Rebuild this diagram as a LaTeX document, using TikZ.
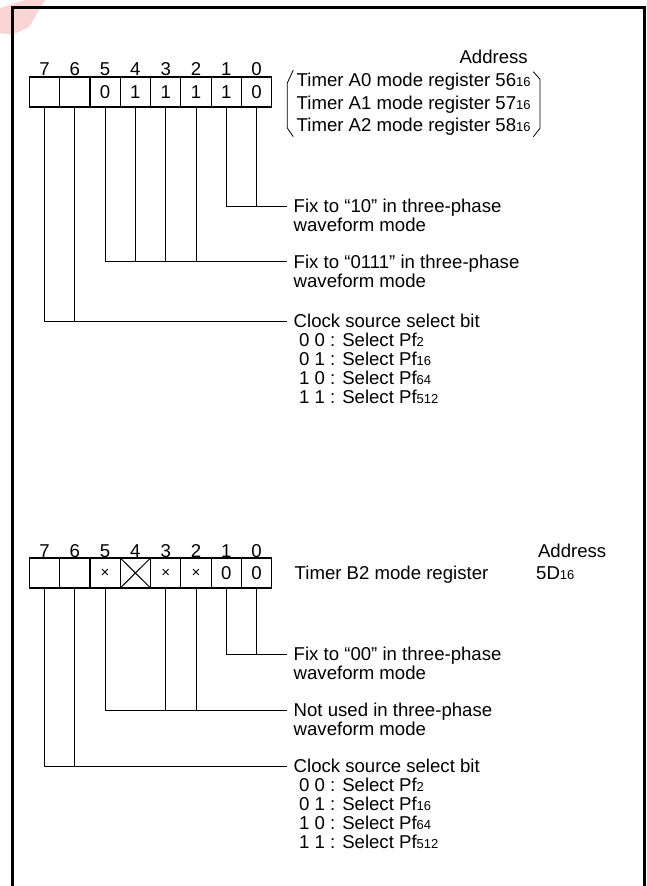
\documentclass[tikz,border=0pt]{standalone}
\usepackage{fontspec}
\setmainfont{Liberation Sans}
\usetikzlibrary{calc}
\newcommand\subx[1]{{\fontsize{13}{13}\selectfont #1}}
\newcommand\smallcross{{\fontsize{15}{15}\selectfont ×}}
\newcommand\firstline{\rule{0pt}{14pt}}
\definecolor{stamp}{RGB}{251,212,212}
\begin{document}
\begin{tikzpicture}[x=1pt,y=-1pt,
  every node/.style={font=\fontsize{18.6}{19}\selectfont, inner sep=0pt},
  cell/.style={draw, line width=1.2pt, minimum width=30.3pt, minimum height=30pt},
  lead/.style={line width=0.9pt},
  desc/.style={anchor=north west, align=left},
  bitnum/.style={anchor=base},
]
\useasboundingbox (0,0) rectangle (647,886);
% faint stamp in the corner
\fill[stamp] (25,0) -- (45,0) -- (29,27) -- (12,35) -- (0,33) -- (0,8) -- cycle;
% frame
\draw[line width=3pt] (12,886) -- (12,7) -- (644,7) -- (644,886);

% ---------- Register 1 ----------
\foreach \i/\t in {0/0,1/1,2/1,3/1,4/1,5/0,6/,7/} {
  \node[cell] (r1b\i) at ({256.6-30.3*\i},92) {\t};
  \node[bitnum] (r1n\i) at ({256.6-30.3*\i},75.6) {\i};
}
\node[anchor=base east] (addr1) at (528,63.6) {Address};
\node[anchor=north west, align=left, font=\fontsize{18.6}{22.5}\selectfont] (tA) at (296.5,72.6)
  {\firstline Timer A0 mode register 56\subx{16}\\Timer A1 mode register 57\subx{16}\\Timer A2 mode register 58\subx{16}};
\draw[line width=0.8pt] (293.3,70) -- (287.3,83) -- (287.3,128) -- (293.3,136.7);
\draw[line width=0.8pt] (533.3,71.7) -- (540,79.3) -- (540,128.3) -- (533.3,136.7);

\coordinate (j1) at (287,206);
\coordinate (j2) at (287,261.5);
\coordinate (j3) at (287,321);
\draw[lead] (r1b0.south) |- (j1);
\draw[lead] (r1b1.south) |- (j1);
\foreach \i in {2,3,4,5} \draw[lead] (r1b\i.south) |- (j2);
\foreach \i in {6,7} \draw[lead] (r1b\i.south) |- (j3);
\node[desc] (d1) at ([xshift=6.5pt,yshift=7.6pt]j1) {\firstline Fix to “10” in three-phase\\waveform mode};
\node[desc] (d2) at ([xshift=6.5pt,yshift=7.6pt]j2) {\firstline Fix to “0111” in three-phase\\waveform mode};
\node[desc] (d3) at ([xshift=6.5pt,yshift=7.6pt]j3) {\firstline Clock source select bit\\
  \hspace{5.5pt}0 0 : Select Pf\subx{2}\\
  \hspace{5.5pt}0 1 : Select Pf\subx{16}\\
  \hspace{5.5pt}1 0 : Select Pf\subx{64}\\
  \hspace{5.5pt}1 1 : Select Pf\subx{512}};

% ---------- Register 2 ----------
\foreach \i/\t in {0/0,1/0,2/\smallcross,3/\smallcross,4/,5/\smallcross,6/,7/} {
  \node[cell] (r2b\i) at ({256.6-30.3*\i},573) {\t};
  \node[bitnum] (r2n\i) at ({256.6-30.3*\i},557.6) {\i};
}
\draw[line width=1pt] (r2b4.north west) -- (r2b4.south east)
                      (r2b4.north east) -- (r2b4.south west);
\node[anchor=base east] (addr2) at (606.5,557.6) {Address};
\node[anchor=base west] (tB) at (294.5,579.6) {Timer B2 mode register};
\node[anchor=base west] (aB) at (536,579.6) {5D\subx{16}};

\coordinate (j4) at (287,654);
\coordinate (j5) at (287,710);
\coordinate (j6) at (287,766);
\draw[lead] (r2b0.south) |- (j4);
\draw[lead] (r2b1.south) |- (j4);
\foreach \i in {2,3,5} \draw[lead] (r2b\i.south) |- (j5);
\foreach \i in {6,7} \draw[lead] (r2b\i.south) |- (j6);
\node[desc] (d4) at ([xshift=6.5pt,yshift=7.6pt]j4) {\firstline Fix to “00” in three-phase\\waveform mode};
\node[desc] (d5) at ([xshift=6.5pt,yshift=7.6pt]j5) {\firstline Not used in three-phase\\waveform mode};
\node[desc] (d6) at ([xshift=6.5pt,yshift=7.6pt]j6) {\firstline Clock source select bit\\
  \hspace{5.5pt}0 0 : Select Pf\subx{2}\\
  \hspace{5.5pt}0 1 : Select Pf\subx{16}\\
  \hspace{5.5pt}1 0 : Select Pf\subx{64}\\
  \hspace{5.5pt}1 1 : Select Pf\subx{512}};
\end{tikzpicture}
\end{document}
